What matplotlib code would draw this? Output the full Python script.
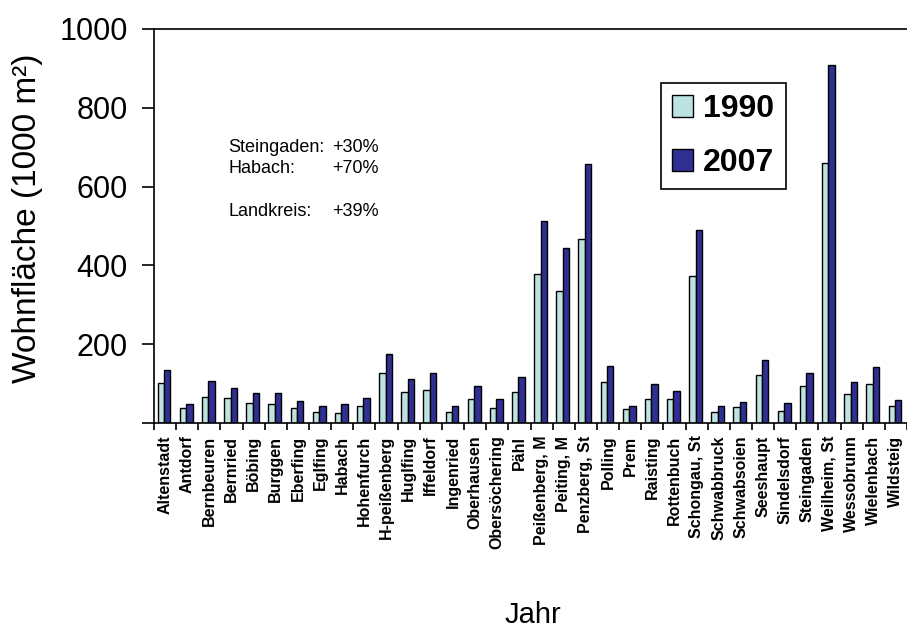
import matplotlib
matplotlib.use("Agg")
import matplotlib.pyplot as plt
import numpy as np

plt.rcParams["font.family"] = ["Liberation Sans", "DejaVu Sans"]

orte = ["Altenstadt", "Antdorf", "Bernbeuren", "Bernried", "Böbing", "Burggen",
        "Eberfing", "Eglfing", "Habach", "Hohenfurch", "H-peißenberg", "Huglfing",
        "Iffeldorf", "Ingenried", "Oberhausen", "Obersöchering", "Pähl",
        "Peißenberg, M", "Peiting, M", "Penzberg, St", "Polling", "Prem",
        "Raisting", "Rottenbuch", "Schongau, St", "Schwabbruck", "Schwabsoien",
        "Seeshaupt", "Sindelsdorf", "Steingaden", "Weilheim, St", "Wessobrunn",
        "Wielenbach", "Wildsteig"]
v1990 = [102, 37, 67, 63, 52, 49, 37, 29, 25, 44, 128, 78, 85, 28, 62, 39, 78,
         377, 336, 468, 103, 35, 62, 62, 374, 28, 40, 123, 30, 95, 661, 73, 100, 42]
v2007 = [135, 49, 106, 90, 75, 75, 56, 44, 49, 63, 174, 112, 126, 42, 95, 62, 118,
         513, 444, 658, 145, 42, 100, 80, 491, 42, 53, 160, 50, 126, 909, 103, 141, 59]
yticks = [0, 200, 400, 600, 800, 1000]
notiz_links = ["Steingaden:", "Habach:", "", "Landkreis:"]
notiz_rechts = ["+30%", "+70%", "", "+39%"]

W, H = 907, 630
fig = plt.figure(figsize=(W / 100, H / 100), dpi=100)
ax = fig.add_axes([154 / W, 1 - 423 / H, 1 - 154 / W, (423 - 29) / H])

x = np.arange(len(orte))
bw = 0.29
ax.bar(x - 0.19, v1990, bw, color="#BCE2E2", edgecolor="black", lw=1, label="1990", zorder=2)
ax.bar(x + 0.10, v2007, bw, color="#303094", edgecolor="black", lw=1, label="2007", zorder=2)

ax.set_xlim(-0.5, len(orte) - 0.5)
ax.set_ylim(0, 1000)
ax.set_yticks(yticks)
ax.set_yticklabels(["" if v == 0 else str(v) for v in yticks], fontsize=22)
ax.tick_params(axis="y", direction="out", length=9, width=1.2, pad=10)

# ticks at category borders, labels at centres
ax.set_xticks(np.arange(len(orte) + 1) - 0.5)
ax.set_xticklabels([])
ax.tick_params(axis="x", which="major", direction="out", length=5, width=1.2)
ax.set_xticks(x, minor=True)
ax.set_xticklabels(orte, minor=True, rotation=90, fontsize=11.5, fontweight="bold")
ax.tick_params(axis="x", which="minor", length=0, pad=9)

for s in ["left", "bottom", "top"]:
    ax.spines[s].set_linewidth(1.2)
ax.spines["right"].set_visible(False)

fig.text(28 / W, 1 - 218 / H, "Wohnfläche (1000 m²)", fontsize=24,
         rotation=90, ha="center", va="center")
fig.text(533 / W, 1 - 623 / H, "Jahr", fontsize=21, ha="center", va="baseline")

for i, (a, b) in enumerate(zip(notiz_links, notiz_rechts)):
    yy = 1 - (147 + i * 21.5) / H
    fig.text(228 / W, yy, a, fontsize=13, va="center")
    fig.text(332 / W, yy, b, fontsize=13, va="center")

leg = ax.legend(loc="upper left", bbox_to_anchor=(661 / W, 1 - 83 / H),
                bbox_transform=fig.transFigure, borderaxespad=0,
                prop={"size": 23, "weight": "bold"}, fancybox=False,
                edgecolor="black", framealpha=1, handlelength=0.66,
                handleheight=0.69, handletextpad=0.31, labelspacing=0.74,
                borderpad=0.35)
leg.get_frame().set_linewidth(1.2)

fig.savefig("out.png", dpi=100)
